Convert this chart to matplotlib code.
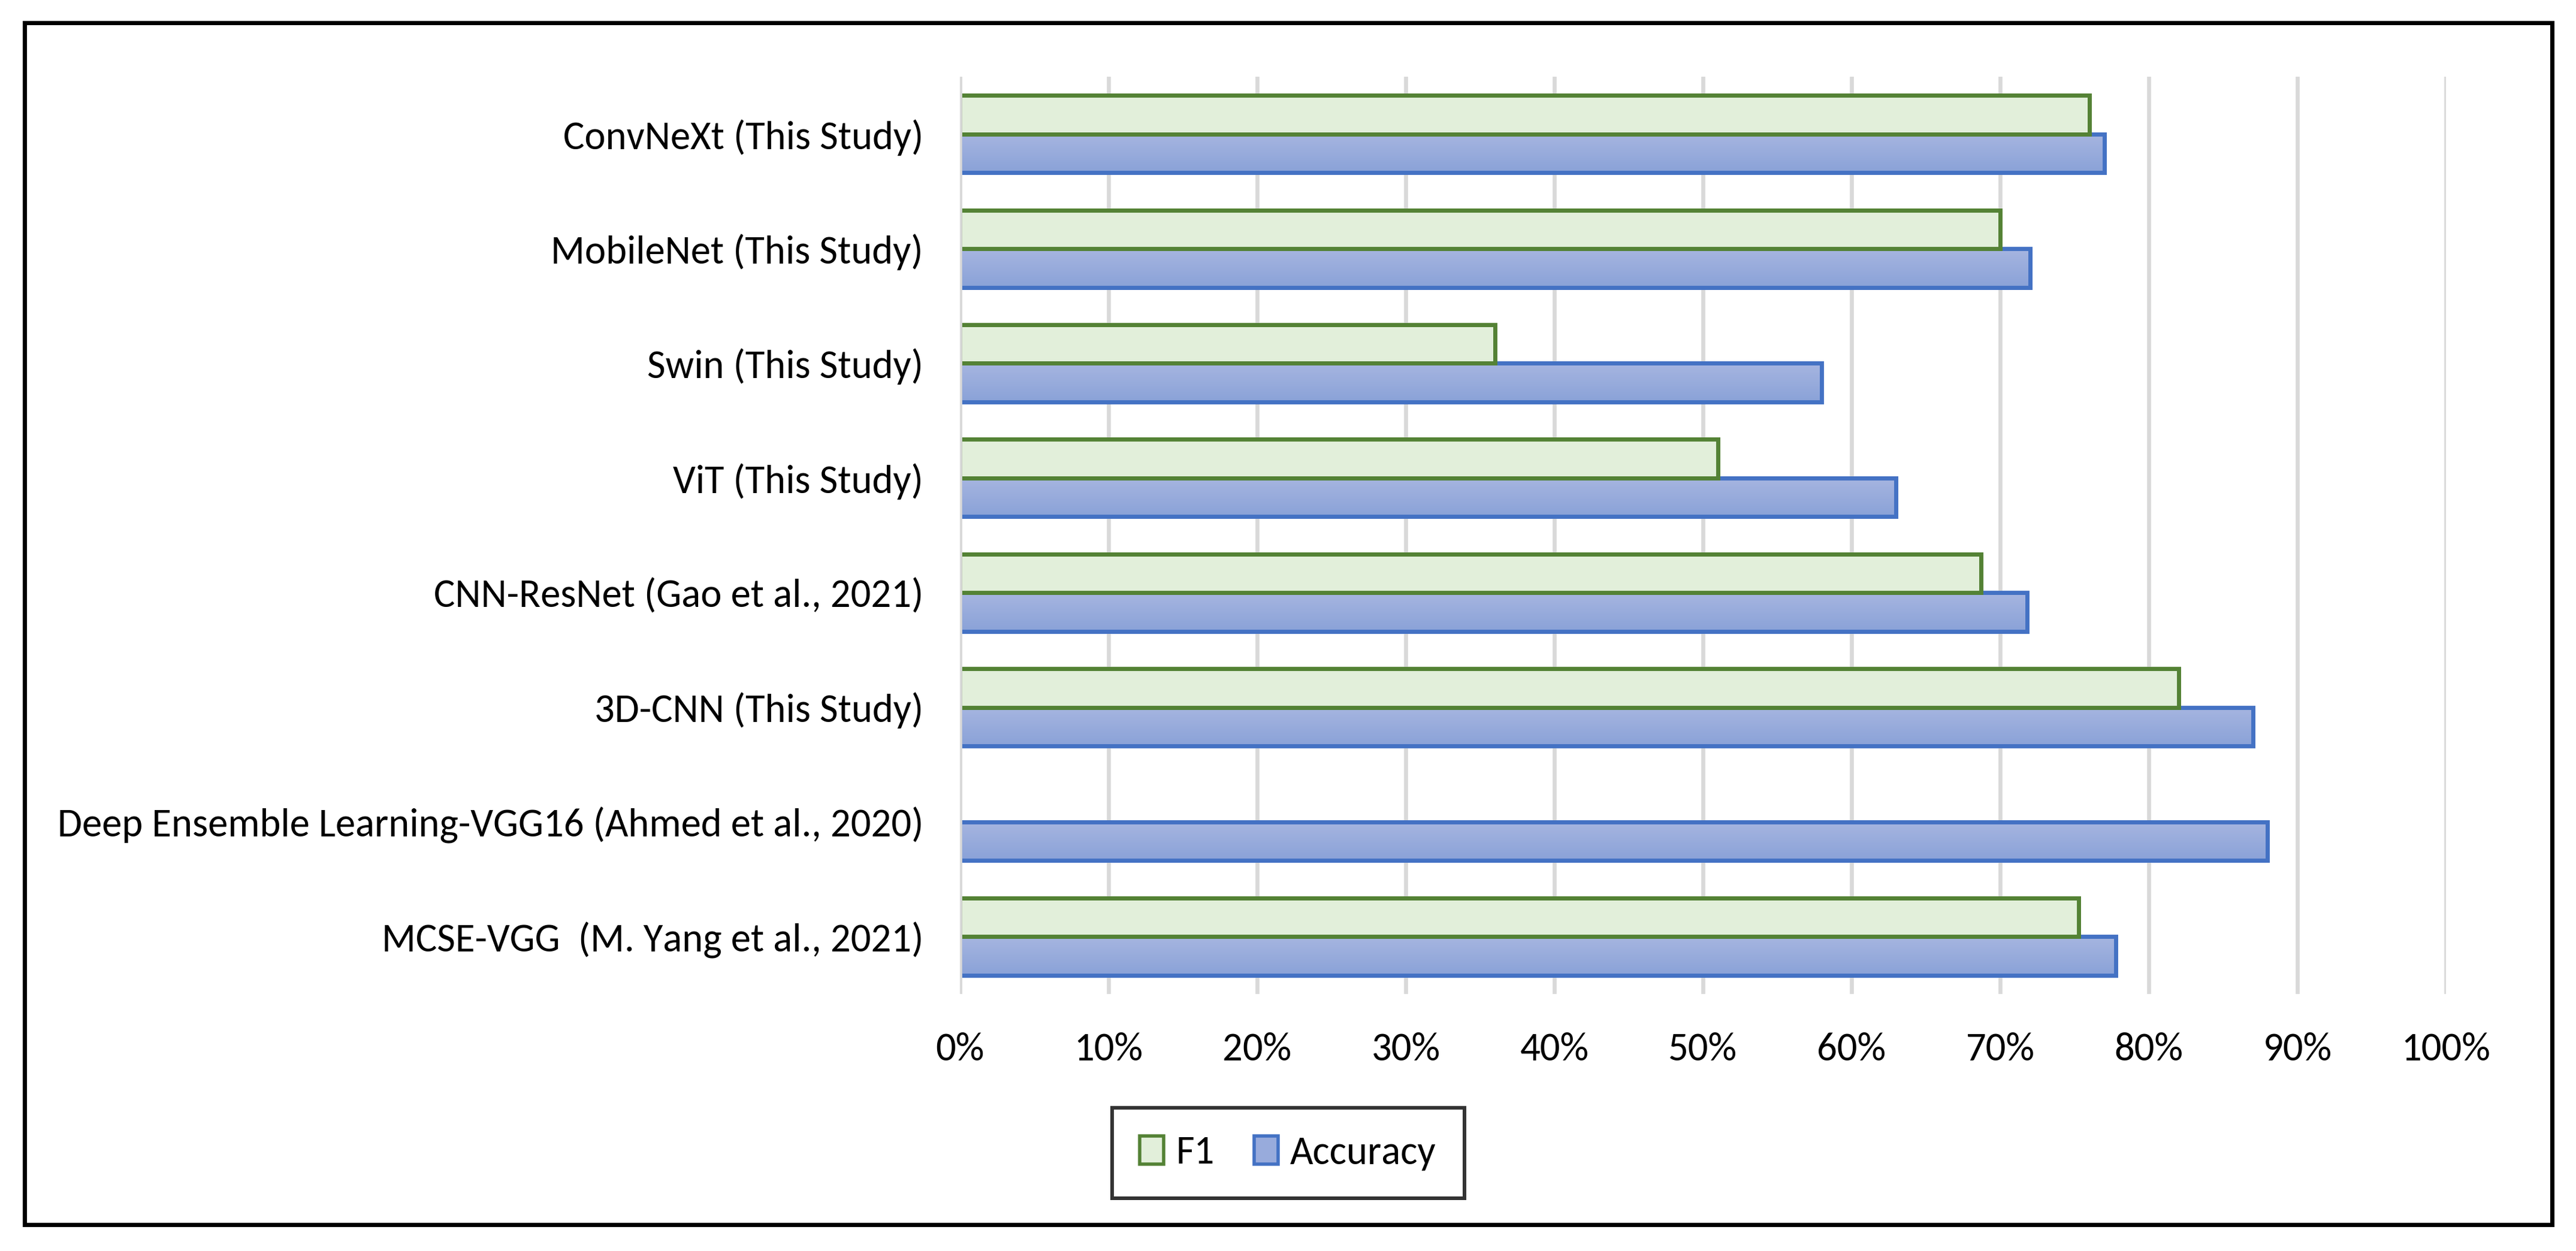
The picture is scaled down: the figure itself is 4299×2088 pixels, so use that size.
import matplotlib
matplotlib.use('Agg')
import matplotlib.pyplot as plt
import numpy as np
from matplotlib import font_manager
from matplotlib.patches import Rectangle, Patch
from matplotlib.colors import LinearSegmentedColormap

# data
models = ['ConvNeXt (This Study)', 'MobileNet (This Study)', 'Swin (This Study)',
          'ViT (This Study)', 'CNN-ResNet (Gao et al., 2021)', '3D-CNN (This Study)',
          'Deep Ensemble Learning-VGG16 (Ahmed et al., 2020)',
          'MCSE-VGG  (M. Yang et al., 2021)']
f1 = np.array([76, 70, 36, 51, 68.7, 82, np.nan, 75.3])
accuracy = np.array([77, 72, 58, 63, 71.8, 87, 88, 77.8])
xticks = [0, 10, 20, 30, 40, 50, 60, 70, 80, 90, 100]

avail = {f.name for f in font_manager.fontManager.ttflist}
fam = 'Carlito' if 'Carlito' in avail else 'Lato'
plt.rcParams['font.family'] = [fam, 'DejaVu Sans']
fs = 48

W, H = 4299, 2088
fig = plt.figure(figsize=(W / 100, H / 100), dpi=100)
ax = fig.add_axes([1602 / W, 1 - 1659 / H, (4082 - 1602) / W, (1659 - 128) / H])

y = np.arange(len(models))
h = 0.337

# accuracy bars: gradient fill clipped to the bar, blue outline
acc_bars = ax.barh(y + h / 2, accuracy / 100, height=h, facecolor='none',
                   edgecolor='#4472C4', linewidth=5, zorder=3)
grad = np.linspace(0, 1, 64).reshape(-1, 1)
cmap = LinearSegmentedColormap.from_list('acc', ['#A6B5E0', '#8AA2D8'])
for b in acc_bars:
    ax.imshow(grad, cmap=cmap, aspect='auto', interpolation='bilinear',
              extent=(b.get_x(), b.get_x() + b.get_width(),
                      b.get_y() + b.get_height(), b.get_y()), zorder=2)

m = ~np.isnan(f1)
ax.barh(y[m] - h / 2, f1[m] / 100, height=h, color='#E2EFDA',
        edgecolor='#548235', linewidth=5, zorder=3.5)

ax.set_xlim(0, 1)
ax.set_ylim(len(models) - 0.5, -0.5)
ax.set_xticks(np.array(xticks) / 100, [f'{t}%' for t in xticks])
ax.set_yticks(y, models)
ax.tick_params(axis='y', length=0, pad=44, labelsize=fs)
ax.tick_params(axis='x', length=0, pad=46, labelsize=fs)
for s in ax.spines.values():
    s.set_visible(False)
ax.xaxis.grid(True, color='#D9D9D9', linewidth=4.8, zorder=0)
ax.set_axisbelow(True)
ax.axvline(0, color='#D9D9D9', linewidth=4.8, zorder=4)

handles = [Patch(facecolor='#E2EFDA', edgecolor='#548235', linewidth=4, label='F1'),
           Patch(facecolor='#98ABDC', edgecolor='#4472C4', linewidth=4, label='Accuracy')]
leg = fig.legend(handles=handles, loc='center', bbox_to_anchor=(0.5, 1 - 1924.5 / H),
                 ncol=2, frameon=True, fancybox=False, edgecolor='black', fontsize=fs,
                 handlelength=0.6, handleheight=0.7, handletextpad=0.3,
                 columnspacing=1.0, borderpad=0.7, borderaxespad=0)
leg.get_frame().set_linewidth(4.3)

# outer frame
fig.add_artist(Rectangle((40.5 / W, 1 - 2044 / H), (4258.5 - 40.5) / W, (2044 - 37.5) / H,
                         transform=fig.transFigure, fill=False, edgecolor='black', linewidth=5))

fig.savefig('out.png', dpi=100)
